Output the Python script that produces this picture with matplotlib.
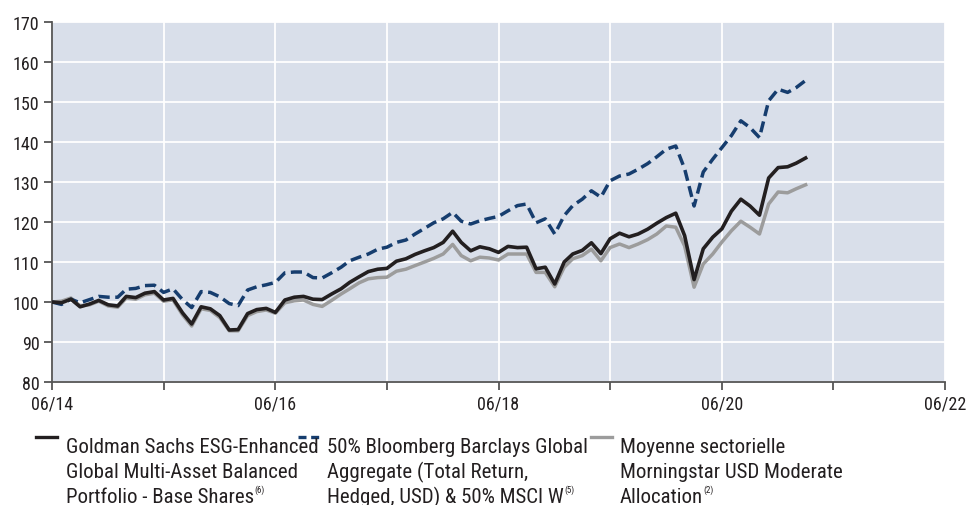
import matplotlib
matplotlib.use("Agg")
import matplotlib.pyplot as plt
from matplotlib.lines import Line2D
import pandas as pd

fund = [100.0, 99.8, 100.7, 98.8, 99.5, 100.4, 99.3, 99.0, 101.4, 101.1, 102.2, 102.6,
        100.5, 100.9, 97.3, 94.5, 98.8, 98.3, 96.6, 93.0, 93.1, 97.1, 98.1, 98.4,
        97.4, 100.5, 101.2, 101.4, 100.7, 100.6, 102.0, 103.3, 104.9, 106.3, 107.6, 108.2,
        108.4, 110.2, 110.8, 111.9, 112.8, 113.6, 114.9, 117.7, 114.9, 112.8, 113.8, 113.3,
        112.4, 113.9, 113.6, 113.7, 108.3, 108.7, 104.5, 110.0, 112.0, 112.9, 114.8, 112.1,
        115.8, 117.2, 116.3, 117.0, 118.2, 119.7, 121.1, 122.2, 116.6, 105.6, 113.3, 116.2,
        118.3, 122.7, 125.7, 124.0, 121.7, 131.0, 133.6, 133.8, 134.7, 136.0]
benchmark = [100.0, 99.4, 100.7, 99.8, 100.6, 101.4, 101.2, 101.2, 103.2, 103.4, 104.1, 104.2,
             102.4, 103.3, 100.6, 98.6, 102.6, 102.4, 101.3, 99.6, 99.1, 103.0, 103.8, 104.3,
             104.9, 107.3, 107.5, 107.5, 106.1, 106.0, 107.3, 108.7, 110.3, 111.2, 112.0, 113.2,
             113.7, 114.9, 115.5, 117.0, 118.4, 119.8, 120.8, 122.4, 120.2, 119.5, 120.3, 120.9,
             121.4, 122.8, 124.1, 124.5, 119.8, 120.8, 117.0, 121.6, 124.1, 125.7, 127.8, 126.2,
             130.3, 131.5, 132.0, 133.2, 134.6, 136.3, 138.2, 139.0, 133.3, 124.0, 132.5, 135.7,
             138.6, 141.6, 145.3, 143.6, 141.1, 150.3, 153.2, 152.4, 153.6, 155.4]
peers = [100.0, 100.2, 101.0, 99.0, 99.3, 100.2, 99.0, 98.7, 101.0, 100.7, 101.8, 102.2,
         100.2, 100.5, 96.8, 94.0, 98.3, 97.9, 96.1, 92.8, 92.8, 96.6, 97.6, 98.0,
         97.2, 99.8, 100.3, 100.5, 99.4, 98.9, 100.4, 102.0, 103.3, 104.8, 105.8, 106.1,
         106.2, 107.7, 108.2, 109.1, 110.0, 110.9, 112.0, 114.4, 111.6, 110.3, 111.2, 111.0,
         110.5, 112.0, 112.0, 112.0, 107.4, 107.4, 103.8, 108.7, 110.8, 111.6, 113.2, 110.3,
         113.6, 114.5, 113.6, 114.5, 115.6, 117.0, 119.0, 118.7, 114.0, 103.7, 109.5, 112.0,
         115.0, 117.8, 120.2, 118.7, 117.0, 124.5, 127.5, 127.3, 128.3, 129.3]
dates = pd.date_range("2014-06-30", periods=len(fund), freq="ME")

tick_dates = pd.date_range("2014-06-30", "2022-06-30", freq="12ME")
tick_labels = ["06/14", "", "06/16", "", "06/18", "", "06/20", "", "06/22"]
y_ticks = [80, 90, 100, 110, 120, 130, 140, 150, 160, 170]

legend_lines = [
    ["Goldman Sachs ESG-Enhanced", "Global Multi-Asset Balanced", "Portfolio - Base Shares"],
    ["50% Bloomberg Barclays Global", "Aggregate (Total Return,", "Hedged, USD) & 50% MSCI W"],
    ["Moyenne sectorielle", "Morningstar USD Moderate", "Allocation"],
]
legend_notes = ["(6)", "(5)", "(2)"]

FONT = ["Roboto Condensed", "DejaVu Sans"]
plt.rcParams["font.family"] = FONT

c_fund = "#231f20"
c_bench = "#163d6e"
c_peer = "#9c9c9c"
bg = "#d9dfea"
txt = "#231f20"

W, H = 967, 506
fig = plt.figure(figsize=(W/100, H/100), dpi=100)
ax = fig.add_axes([52/W, 1-383/H, (945-52)/W, (383-23)/H])
ax.set_facecolor(bg)

ax.plot(dates, peers, color=c_peer, lw=2.5, zorder=3)
ax.plot(dates, benchmark, color=c_bench, lw=2.5, dashes=(3.2, 1.6), zorder=3)
ax.plot(dates, fund, color=c_fund, lw=2.6, zorder=4)

ax.set_ylim(80, 170)
ax.set_xlim(tick_dates[0], tick_dates[-1])
ax.set_yticks(y_ticks)
ax.set_xticks(tick_dates)
ax.set_xticklabels(tick_labels)
ax.grid(True, color="white", lw=1.3, zorder=1)
ax.set_axisbelow(True)
for s in ["top", "right"]:
    ax.spines[s].set_visible(False)
for s in ["left", "bottom"]:
    ax.spines[s].set_color("#555555")
    ax.spines[s].set_linewidth(1.3)
ax.tick_params(axis="both", colors="#555555", width=1.3, length=6, labelsize=13,
               labelcolor=txt)
ax.tick_params(axis="y", pad=3)
ax.tick_params(axis="x", pad=3)

# legend drawn below the axes
cols = [(36, 66), (298, 327), (591, 620)]
styles = [dict(color=c_fund, lw=2.4),
          dict(color=c_bench, lw=2.4, dashes=(2.4, 1.4)),
          dict(color=c_peer, lw=2.4)]
baselines = [453, 478, 503]
for (hx, tx), lines, note, st in zip(cols, legend_lines, legend_notes, styles):
    yh = 1 - 437.5/H
    fig.add_artist(Line2D([hx/W, (hx+21)/W], [yh, yh], transform=fig.transFigure, **st))
    last = None
    for ln, yb in zip(lines, baselines):
        last = fig.text(tx/W, 1-yb/H, ln, ha="left", va="baseline", fontsize=15, color=txt)
    fig.add_artist(plt.Annotation(note, xy=(1.0, 0.62), xycoords=last, xytext=(0.5, 0),
                                  textcoords="offset points", va="bottom", ha="left",
                                  fontsize=6.5, color=txt))
fig.savefig("out.png", dpi=100)
